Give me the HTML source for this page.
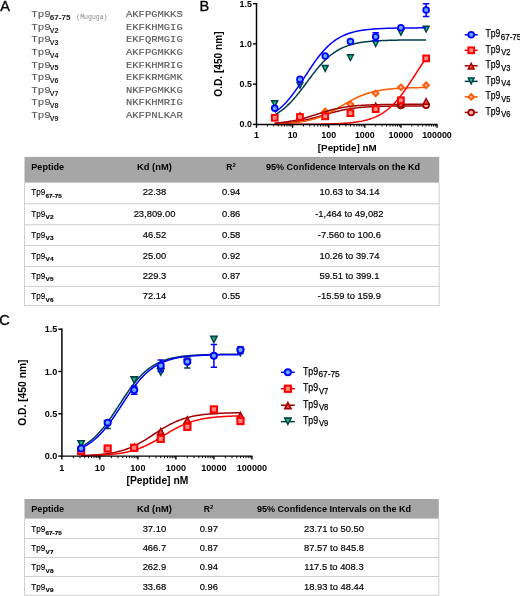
<!DOCTYPE html>
<html><head><meta charset="utf-8"><title>Figure</title>
<style>
html,body{margin:0;padding:0;background:#fff;}
body{width:520px;height:596px;overflow:hidden;font-family:"Liberation Sans",sans-serif;}
svg{display:block}
</style></head><body>
<div style="will-change:transform;width:520px;height:596px;overflow:hidden"><svg width="520" height="596" viewBox="0 0 520 596">
<defs><filter id="soft" x="0" y="0" width="520" height="596" filterUnits="userSpaceOnUse"><feGaussianBlur stdDeviation="0.32"/></filter></defs>
<g filter="url(#soft)">
<text x="0.20" y="10.80" font-family="Liberation Sans" font-size="14.5" font-weight="normal" text-anchor="start" fill="#000" stroke="#000" stroke-width="0.35">A</text>
<text x="199.60" y="10.60" font-family="Liberation Sans" font-size="14.5" font-weight="normal" text-anchor="start" fill="#000" stroke="#000" stroke-width="0.35">B</text>
<text x="-0.80" y="324.80" font-family="Liberation Sans" font-size="14.5" font-weight="normal" text-anchor="start" fill="#000" stroke="#000" stroke-width="0.35">C</text>
<text x="31.20" y="17.25" font-family="Liberation Mono" font-size="9.6" font-weight="normal" text-anchor="start" fill="#585858" textLength="19.60" lengthAdjust="spacingAndGlyphs" stroke="#585858" stroke-width="0.14">Tp9</text>
<text x="49.80" y="19.95" font-family="Liberation Sans" font-size="6.6" font-weight="bold" text-anchor="start" fill="#222" textLength="20.80" lengthAdjust="spacingAndGlyphs" >67-75</text>
<text x="76.30" y="18.75" font-family="Liberation Mono" font-size="6.5" font-weight="normal" text-anchor="start" fill="#888" textLength="31.20" lengthAdjust="spacingAndGlyphs" >(Muguga)</text>
<text x="126.00" y="17.25" font-family="Liberation Mono" font-size="9.6" font-weight="normal" text-anchor="start" fill="#585858" textLength="56.70" lengthAdjust="spacingAndGlyphs" stroke="#585858" stroke-width="0.14">AKFPGMKKS</text>
<text x="31.20" y="29.85" font-family="Liberation Mono" font-size="9.6" font-weight="normal" text-anchor="start" fill="#585858" textLength="19.60" lengthAdjust="spacingAndGlyphs" stroke="#585858" stroke-width="0.14">Tp9</text>
<text x="49.80" y="32.55" font-family="Liberation Sans" font-size="6.6" font-weight="bold" text-anchor="start" fill="#222" textLength="8.70" lengthAdjust="spacingAndGlyphs" >V2</text>
<text x="126.00" y="29.85" font-family="Liberation Mono" font-size="9.6" font-weight="normal" text-anchor="start" fill="#585858" textLength="56.70" lengthAdjust="spacingAndGlyphs" stroke="#585858" stroke-width="0.14">EKFKHMGIG</text>
<text x="31.20" y="42.45" font-family="Liberation Mono" font-size="9.6" font-weight="normal" text-anchor="start" fill="#585858" textLength="19.60" lengthAdjust="spacingAndGlyphs" stroke="#585858" stroke-width="0.14">Tp9</text>
<text x="49.80" y="45.15" font-family="Liberation Sans" font-size="6.6" font-weight="bold" text-anchor="start" fill="#222" textLength="8.70" lengthAdjust="spacingAndGlyphs" >V3</text>
<text x="126.00" y="42.45" font-family="Liberation Mono" font-size="9.6" font-weight="normal" text-anchor="start" fill="#585858" textLength="56.70" lengthAdjust="spacingAndGlyphs" stroke="#585858" stroke-width="0.14">EKFQRMGIG</text>
<text x="31.20" y="55.05" font-family="Liberation Mono" font-size="9.6" font-weight="normal" text-anchor="start" fill="#585858" textLength="19.60" lengthAdjust="spacingAndGlyphs" stroke="#585858" stroke-width="0.14">Tp9</text>
<text x="49.80" y="57.75" font-family="Liberation Sans" font-size="6.6" font-weight="bold" text-anchor="start" fill="#222" textLength="8.70" lengthAdjust="spacingAndGlyphs" >V4</text>
<text x="126.00" y="55.05" font-family="Liberation Mono" font-size="9.6" font-weight="normal" text-anchor="start" fill="#585858" textLength="56.70" lengthAdjust="spacingAndGlyphs" stroke="#585858" stroke-width="0.14">AKFPGMKKG</text>
<text x="31.20" y="67.65" font-family="Liberation Mono" font-size="9.6" font-weight="normal" text-anchor="start" fill="#585858" textLength="19.60" lengthAdjust="spacingAndGlyphs" stroke="#585858" stroke-width="0.14">Tp9</text>
<text x="49.80" y="70.35" font-family="Liberation Sans" font-size="6.6" font-weight="bold" text-anchor="start" fill="#222" textLength="8.70" lengthAdjust="spacingAndGlyphs" >V5</text>
<text x="126.00" y="67.65" font-family="Liberation Mono" font-size="9.6" font-weight="normal" text-anchor="start" fill="#585858" textLength="56.70" lengthAdjust="spacingAndGlyphs" stroke="#585858" stroke-width="0.14">EKFKHMRIG</text>
<text x="31.20" y="80.25" font-family="Liberation Mono" font-size="9.6" font-weight="normal" text-anchor="start" fill="#585858" textLength="19.60" lengthAdjust="spacingAndGlyphs" stroke="#585858" stroke-width="0.14">Tp9</text>
<text x="49.80" y="82.95" font-family="Liberation Sans" font-size="6.6" font-weight="bold" text-anchor="start" fill="#222" textLength="8.70" lengthAdjust="spacingAndGlyphs" >V6</text>
<text x="126.00" y="80.25" font-family="Liberation Mono" font-size="9.6" font-weight="normal" text-anchor="start" fill="#585858" textLength="56.70" lengthAdjust="spacingAndGlyphs" stroke="#585858" stroke-width="0.14">EKFKRMGMK</text>
<text x="31.20" y="92.85" font-family="Liberation Mono" font-size="9.6" font-weight="normal" text-anchor="start" fill="#585858" textLength="19.60" lengthAdjust="spacingAndGlyphs" stroke="#585858" stroke-width="0.14">Tp9</text>
<text x="49.80" y="95.55" font-family="Liberation Sans" font-size="6.6" font-weight="bold" text-anchor="start" fill="#222" textLength="8.70" lengthAdjust="spacingAndGlyphs" >V7</text>
<text x="126.00" y="92.85" font-family="Liberation Mono" font-size="9.6" font-weight="normal" text-anchor="start" fill="#585858" textLength="56.70" lengthAdjust="spacingAndGlyphs" stroke="#585858" stroke-width="0.14">NKFPGMKKG</text>
<text x="31.20" y="105.45" font-family="Liberation Mono" font-size="9.6" font-weight="normal" text-anchor="start" fill="#585858" textLength="19.60" lengthAdjust="spacingAndGlyphs" stroke="#585858" stroke-width="0.14">Tp9</text>
<text x="49.80" y="108.15" font-family="Liberation Sans" font-size="6.6" font-weight="bold" text-anchor="start" fill="#222" textLength="8.70" lengthAdjust="spacingAndGlyphs" >V8</text>
<text x="126.00" y="105.45" font-family="Liberation Mono" font-size="9.6" font-weight="normal" text-anchor="start" fill="#585858" textLength="56.70" lengthAdjust="spacingAndGlyphs" stroke="#585858" stroke-width="0.14">NKFKHMRIG</text>
<text x="31.20" y="118.05" font-family="Liberation Mono" font-size="9.6" font-weight="normal" text-anchor="start" fill="#585858" textLength="19.60" lengthAdjust="spacingAndGlyphs" stroke="#585858" stroke-width="0.14">Tp9</text>
<text x="49.80" y="120.75" font-family="Liberation Sans" font-size="6.6" font-weight="bold" text-anchor="start" fill="#222" textLength="8.70" lengthAdjust="spacingAndGlyphs" >V9</text>
<text x="126.00" y="118.05" font-family="Liberation Mono" font-size="9.6" font-weight="normal" text-anchor="start" fill="#585858" textLength="56.70" lengthAdjust="spacingAndGlyphs" stroke="#585858" stroke-width="0.14">AKFPNLKAR</text>
<polyline points="274.74,123.61 276.00,123.55 277.26,123.48 278.52,123.41 279.78,123.33 281.04,123.25 282.31,123.16 283.57,123.06 284.83,122.96 286.09,122.85 287.35,122.73 288.61,122.60 289.88,122.47 291.14,122.32 292.40,122.17 293.66,122.01 294.92,121.84 296.18,121.65 297.45,121.46 298.71,121.25 299.97,121.04 301.23,120.81 302.49,120.57 303.75,120.32 305.02,120.06 306.28,119.79 307.54,119.50 308.80,119.21 310.06,118.90 311.32,118.59 312.59,118.26 313.85,117.93 315.11,117.58 316.37,117.23 317.63,116.88 318.89,116.52 320.15,116.15 321.42,115.78 322.68,115.41 323.94,115.04 325.20,114.66 326.46,114.29 327.72,113.93 328.99,113.56 330.25,113.20 331.51,112.85 332.77,112.50 334.03,112.17 335.29,111.84 336.56,111.52 337.82,111.21 339.08,110.91 340.34,110.62 341.60,110.34 342.86,110.07 344.13,109.82 345.39,109.57 346.65,109.34 347.91,109.12 349.17,108.91 350.43,108.71 351.70,108.53 352.96,108.35 354.22,108.18 355.48,108.03 356.74,107.88 358.00,107.74 359.27,107.61 360.53,107.49 361.79,107.37 363.05,107.27 364.31,107.17 365.57,107.07 366.84,106.99 368.10,106.91 369.36,106.83 370.62,106.76 371.88,106.70 373.14,106.64 374.41,106.58 375.67,106.53 376.93,106.48 378.19,106.44 379.45,106.40 380.71,106.36 381.98,106.32 383.24,106.29 384.50,106.26 385.76,106.23 387.02,106.20 388.28,106.18 389.55,106.16 390.81,106.14 392.07,106.12 393.33,106.10 394.59,106.08 395.85,106.07 397.12,106.05 398.38,106.04 399.64,106.03 400.90,106.02 402.16,106.01 403.42,106.00 404.68,105.99 405.95,105.98 407.21,105.97 408.47,105.97 409.73,105.96 410.99,105.95 412.25,105.95 413.52,105.94 414.78,105.94 416.04,105.94 417.30,105.93 418.56,105.93 419.82,105.92 421.09,105.92 422.35,105.92 423.61,105.92 424.87,105.91 426.13,105.91" fill="none" stroke="#a00000" stroke-width="1.5" stroke-linejoin="round"/>
<circle cx="400.90" cy="105.48" r="3.75" fill="#a00000"/><circle cx="400.90" cy="105.48" r="2.00" fill="#ffb0b0"/>
<circle cx="426.13" cy="105.20" r="3.75" fill="#a00000"/><circle cx="426.13" cy="105.20" r="2.00" fill="#ffb0b0"/>
<polyline points="274.74,123.89 276.00,123.85 277.26,123.80 278.52,123.75 279.78,123.70 281.04,123.64 282.31,123.58 283.57,123.51 284.83,123.44 286.09,123.36 287.35,123.28 288.61,123.19 289.88,123.09 291.14,122.99 292.40,122.87 293.66,122.75 294.92,122.62 296.18,122.48 297.45,122.32 298.71,122.16 299.97,121.98 301.23,121.80 302.49,121.59 303.75,121.38 305.02,121.15 306.28,120.90 307.54,120.64 308.80,120.36 310.06,120.06 311.32,119.74 312.59,119.40 313.85,119.04 315.11,118.66 316.37,118.26 317.63,117.84 318.89,117.39 320.15,116.93 321.42,116.43 322.68,115.92 323.94,115.38 325.20,114.82 326.46,114.24 327.72,113.64 328.99,113.01 330.25,112.37 331.51,111.70 332.77,111.02 334.03,110.33 335.29,109.62 336.56,108.90 337.82,108.17 339.08,107.43 340.34,106.69 341.60,105.95 342.86,105.20 344.13,104.46 345.39,103.72 346.65,102.99 347.91,102.27 349.17,101.56 350.43,100.86 351.70,100.18 352.96,99.51 354.22,98.87 355.48,98.24 356.74,97.63 358.00,97.05 359.27,96.48 360.53,95.94 361.79,95.42 363.05,94.93 364.31,94.45 365.57,94.00 366.84,93.58 368.10,93.17 369.36,92.79 370.62,92.43 371.88,92.09 373.14,91.76 374.41,91.46 375.67,91.18 376.93,90.91 378.19,90.66 379.45,90.43 380.71,90.21 381.98,90.01 383.24,89.82 384.50,89.64 385.76,89.47 387.02,89.32 388.28,89.18 389.55,89.04 390.81,88.92 392.07,88.80 393.33,88.70 394.59,88.60 395.85,88.51 397.12,88.42 398.38,88.34 399.64,88.27 400.90,88.20 402.16,88.14 403.42,88.08 404.68,88.03 405.95,87.98 407.21,87.93 408.47,87.89 409.73,87.85 410.99,87.81 412.25,87.78 413.52,87.75 414.78,87.72 416.04,87.69 417.30,87.67 418.56,87.64 419.82,87.62 421.09,87.60 422.35,87.58 423.61,87.57 424.87,87.55 426.13,87.54" fill="none" stroke="#ff5a00" stroke-width="1.5" stroke-linejoin="round"/>
<path d="M325.20 107.32L329.40 111.52L325.20 115.72L321.00 111.52Z" fill="#ff5a00"/><path d="M325.20 109.92L326.80 111.52L325.20 113.12L323.60 111.52Z" fill="#ffb0b8"/>
<path d="M350.43 100.08L354.63 104.28L350.43 108.48L346.23 104.28Z" fill="#ff5a00"/><path d="M350.43 102.68L352.03 104.28L350.43 105.88L348.83 104.28Z" fill="#ffb0b8"/>
<path d="M375.67 89.21L379.87 93.41L375.67 97.61L371.47 93.41Z" fill="#ff5a00"/><path d="M375.67 91.81L377.27 93.41L375.67 95.01L374.07 93.41Z" fill="#ffb0b8"/>
<path d="M400.90 83.17L405.10 87.37L400.90 91.57L396.70 87.37Z" fill="#ff5a00"/><path d="M400.90 85.77L402.50 87.37L400.90 88.97L399.30 87.37Z" fill="#ffb0b8"/>
<path d="M426.13 81.00L430.33 85.20L426.13 89.40L421.93 85.20Z" fill="#ff5a00"/><path d="M426.13 83.60L427.73 85.20L426.13 86.80L424.53 85.20Z" fill="#ffb0b8"/>
<polyline points="274.74,114.81 276.00,114.10 277.26,113.35 278.52,112.56 279.78,111.71 281.04,110.82 282.31,109.88 283.57,108.88 284.83,107.84 286.09,106.74 287.35,105.59 288.61,104.39 289.88,103.13 291.14,101.83 292.40,100.47 293.66,99.07 294.92,97.62 296.18,96.12 297.45,94.59 298.71,93.02 299.97,91.41 301.23,89.78 302.49,88.13 303.75,86.45 305.02,84.76 306.28,83.07 307.54,81.37 308.80,79.67 310.06,77.98 311.32,76.30 312.59,74.64 313.85,73.01 315.11,71.40 316.37,69.83 317.63,68.29 318.89,66.79 320.15,65.34 321.42,63.93 322.68,62.57 323.94,61.26 325.20,60.00 326.46,58.79 327.72,57.64 328.99,56.53 330.25,55.48 331.51,54.49 332.77,53.54 334.03,52.64 335.29,51.79 336.56,50.99 337.82,50.24 339.08,49.53 340.34,48.86 341.60,48.24 342.86,47.65 344.13,47.10 345.39,46.59 346.65,46.10 347.91,45.66 349.17,45.24 350.43,44.85 351.70,44.48 352.96,44.15 354.22,43.83 355.48,43.54 356.74,43.27 358.00,43.01 359.27,42.78 360.53,42.56 361.79,42.36 363.05,42.17 364.31,42.00 365.57,41.84 366.84,41.69 368.10,41.55 369.36,41.43 370.62,41.31 371.88,41.20 373.14,41.10 374.41,41.00 375.67,40.92 376.93,40.84 378.19,40.77 379.45,40.70 380.71,40.63 381.98,40.58 383.24,40.52 384.50,40.47 385.76,40.43 387.02,40.38 388.28,40.34 389.55,40.31 390.81,40.28 392.07,40.24 393.33,40.22 394.59,40.19 395.85,40.17 397.12,40.14 398.38,40.12 399.64,40.10 400.90,40.09 402.16,40.07 403.42,40.05 404.68,40.04 405.95,40.03 407.21,40.02 408.47,40.01 409.73,40.00 410.99,39.99 412.25,39.98 413.52,39.97 414.78,39.96 416.04,39.96 417.30,39.95 418.56,39.94 419.82,39.94 421.09,39.93 422.35,39.93 423.61,39.92 424.87,39.92 426.13,39.92" fill="none" stroke="#003d4d" stroke-width="1.5" stroke-linejoin="round"/>
<path d="M274.74 101.70V106.53M271.54 101.70h6.4M271.54 106.53h6.4" stroke="#003d4d" stroke-width="1.5" fill="none"/>
<path d="M274.74 108.21L278.84 100.11H270.64Z" fill="#003d4d"/><path d="M274.74 105.11L276.44 101.61H273.04Z" fill="#10d070"/>
<path d="M299.97 89.86L304.07 81.76H295.87Z" fill="#003d4d"/><path d="M299.97 86.76L301.67 83.26H298.27Z" fill="#10d070"/>
<path d="M325.20 72.96L329.30 64.86H321.10Z" fill="#003d4d"/><path d="M325.20 69.86L326.90 66.36H323.50Z" fill="#10d070"/>
<path d="M350.43 62.09L354.53 53.99H346.33Z" fill="#003d4d"/><path d="M350.43 58.99L352.13 55.49H348.73Z" fill="#10d070"/>
<path d="M375.67 48.00L379.77 39.90H371.57Z" fill="#003d4d"/><path d="M375.67 44.90L377.37 41.40H373.97Z" fill="#10d070"/>
<path d="M400.90 36.73L405.00 28.63H396.80Z" fill="#003d4d"/><path d="M400.90 33.63L402.60 30.13H399.20Z" fill="#10d070"/>
<path d="M426.13 33.51L430.23 25.41H422.03Z" fill="#003d4d"/><path d="M426.13 30.41L427.83 26.91H424.43Z" fill="#10d070"/>
<polyline points="274.74,123.10 276.00,123.00 277.26,122.90 278.52,122.78 279.78,122.66 281.04,122.52 282.31,122.38 283.57,122.23 284.83,122.07 286.09,121.90 287.35,121.72 288.61,121.52 289.88,121.32 291.14,121.10 292.40,120.88 293.66,120.64 294.92,120.38 296.18,120.12 297.45,119.84 298.71,119.55 299.97,119.25 301.23,118.94 302.49,118.61 303.75,118.27 305.02,117.92 306.28,117.56 307.54,117.20 308.80,116.82 310.06,116.44 311.32,116.05 312.59,115.65 313.85,115.25 315.11,114.85 316.37,114.44 317.63,114.04 318.89,113.64 320.15,113.23 321.42,112.84 322.68,112.44 323.94,112.06 325.20,111.67 326.46,111.30 327.72,110.94 328.99,110.59 330.25,110.24 331.51,109.91 332.77,109.59 334.03,109.28 335.29,108.98 336.56,108.70 337.82,108.43 339.08,108.17 340.34,107.92 341.60,107.69 342.86,107.47 344.13,107.26 345.39,107.06 346.65,106.87 347.91,106.69 349.17,106.53 350.43,106.37 351.70,106.23 352.96,106.09 354.22,105.96 355.48,105.84 356.74,105.73 358.00,105.62 359.27,105.52 360.53,105.43 361.79,105.35 363.05,105.27 364.31,105.20 365.57,105.13 366.84,105.06 368.10,105.01 369.36,104.95 370.62,104.90 371.88,104.85 373.14,104.81 374.41,104.77 375.67,104.73 376.93,104.70 378.19,104.67 379.45,104.64 380.71,104.61 381.98,104.58 383.24,104.56 384.50,104.54 385.76,104.52 387.02,104.50 388.28,104.48 389.55,104.47 390.81,104.45 392.07,104.44 393.33,104.43 394.59,104.41 395.85,104.40 397.12,104.39 398.38,104.38 399.64,104.38 400.90,104.37 402.16,104.36 403.42,104.35 404.68,104.35 405.95,104.34 407.21,104.34 408.47,104.33 409.73,104.33 410.99,104.32 412.25,104.32 413.52,104.32 414.78,104.31 416.04,104.31 417.30,104.31 418.56,104.31 419.82,104.30 421.09,104.30 422.35,104.30 423.61,104.30 424.87,104.30 426.13,104.29" fill="none" stroke="#a00000" stroke-width="1.5" stroke-linejoin="round"/>
<path d="M299.97 111.28L304.07 119.38H295.87Z" fill="#a00000"/><path d="M299.97 114.38L301.67 117.88H298.27Z" fill="#ff4040"/>
<path d="M325.20 111.85L329.30 119.95H321.10Z" fill="#a00000"/><path d="M325.20 114.95L326.90 118.45H323.50Z" fill="#ff4040"/>
<path d="M350.43 108.63L354.53 116.73H346.33Z" fill="#a00000"/><path d="M350.43 111.73L352.13 115.23H348.73Z" fill="#ff4040"/>
<path d="M375.67 101.38L379.77 109.48H371.57Z" fill="#a00000"/><path d="M375.67 104.48L377.37 107.98H373.97Z" fill="#ff4040"/>
<path d="M400.90 99.37L405.00 107.47H396.80Z" fill="#a00000"/><path d="M400.90 102.47L402.60 105.97H399.20Z" fill="#ff4040"/>
<path d="M426.13 96.96L430.23 105.06H422.03Z" fill="#a00000"/><path d="M426.13 100.06L427.83 103.56H424.43Z" fill="#ff4040"/>
<polyline points="274.74,124.39 276.00,124.39 277.26,124.38 278.52,124.38 279.78,124.38 281.04,124.38 282.31,124.38 283.57,124.38 284.83,124.38 286.09,124.37 287.35,124.37 288.61,124.37 289.88,124.37 291.14,124.36 292.40,124.36 293.66,124.36 294.92,124.35 296.18,124.35 297.45,124.34 298.71,124.34 299.97,124.33 301.23,124.33 302.49,124.32 303.75,124.32 305.02,124.31 306.28,124.30 307.54,124.29 308.80,124.29 310.06,124.28 311.32,124.27 312.59,124.25 313.85,124.24 315.11,124.23 316.37,124.21 317.63,124.20 318.89,124.18 320.15,124.16 321.42,124.14 322.68,124.12 323.94,124.10 325.20,124.07 326.46,124.05 327.72,124.02 328.99,123.99 330.25,123.95 331.51,123.91 332.77,123.87 334.03,123.83 335.29,123.78 336.56,123.73 337.82,123.67 339.08,123.61 340.34,123.55 341.60,123.48 342.86,123.40 344.13,123.32 345.39,123.23 346.65,123.13 347.91,123.03 349.17,122.91 350.43,122.79 351.70,122.66 352.96,122.52 354.22,122.36 355.48,122.19 356.74,122.01 358.00,121.82 359.27,121.61 360.53,121.38 361.79,121.14 363.05,120.87 364.31,120.59 365.57,120.28 366.84,119.95 368.10,119.60 369.36,119.22 370.62,118.81 371.88,118.37 373.14,117.90 374.41,117.39 375.67,116.85 376.93,116.27 378.19,115.65 379.45,114.99 380.71,114.28 381.98,113.53 383.24,112.73 384.50,111.88 385.76,110.97 387.02,110.01 388.28,109.00 389.55,107.92 390.81,106.79 392.07,105.60 393.33,104.35 394.59,103.04 395.85,101.67 397.12,100.24 398.38,98.74 399.64,97.20 400.90,95.59 402.16,93.93 403.42,92.22 404.68,90.46 405.95,88.66 407.21,86.82 408.47,84.95 409.73,83.05 410.99,81.12 412.25,79.18 413.52,77.23 414.78,75.27 416.04,73.31 417.30,71.36 418.56,69.42 419.82,67.51 421.09,65.62 422.35,63.76 423.61,61.93 424.87,60.15 426.13,58.42" fill="none" stroke="#ff0000" stroke-width="1.5" stroke-linejoin="round"/>
<rect x="270.89" y="113.95" width="7.70" height="7.70" fill="#ff0000"/><rect x="272.84" y="115.90" width="3.80" height="3.80" fill="#ff8a8a"/>
<rect x="296.12" y="113.14" width="7.70" height="7.70" fill="#ff0000"/><rect x="298.07" y="115.09" width="3.80" height="3.80" fill="#ff8a8a"/>
<rect x="321.35" y="112.50" width="7.70" height="7.70" fill="#ff0000"/><rect x="323.30" y="114.45" width="3.80" height="3.80" fill="#ff8a8a"/>
<rect x="346.58" y="109.28" width="7.70" height="7.70" fill="#ff0000"/><rect x="348.53" y="111.23" width="3.80" height="3.80" fill="#ff8a8a"/>
<rect x="371.82" y="105.26" width="7.70" height="7.70" fill="#ff0000"/><rect x="373.77" y="107.20" width="3.80" height="3.80" fill="#ff8a8a"/>
<rect x="397.05" y="96.40" width="7.70" height="7.70" fill="#ff0000"/><rect x="399.00" y="98.35" width="3.80" height="3.80" fill="#ff8a8a"/>
<rect x="422.28" y="54.54" width="7.70" height="7.70" fill="#ff0000"/><rect x="424.23" y="56.49" width="3.80" height="3.80" fill="#ff8a8a"/>
<polyline points="274.74,112.32 276.00,111.44 277.26,110.51 278.52,109.52 279.78,108.48 281.04,107.38 282.31,106.23 283.57,105.01 284.83,103.73 286.09,102.39 287.35,101.00 288.61,99.54 289.88,98.03 291.14,96.46 292.40,94.83 293.66,93.15 294.92,91.43 296.18,89.66 297.45,87.85 298.71,86.01 299.97,84.13 301.23,82.23 302.49,80.31 303.75,78.37 305.02,76.43 306.28,74.49 307.54,72.55 308.80,70.62 310.06,68.72 311.32,66.83 312.59,64.97 313.85,63.15 315.11,61.37 316.37,59.63 317.63,57.93 318.89,56.29 320.15,54.70 321.42,53.17 322.68,51.69 323.94,50.27 325.20,48.92 326.46,47.62 327.72,46.38 328.99,45.20 330.25,44.08 331.51,43.02 332.77,42.02 334.03,41.07 335.29,40.18 336.56,39.33 337.82,38.54 339.08,37.80 340.34,37.10 341.60,36.44 342.86,35.83 344.13,35.26 345.39,34.72 346.65,34.22 347.91,33.76 349.17,33.32 350.43,32.92 351.70,32.54 352.96,32.19 354.22,31.87 355.48,31.56 356.74,31.28 358.00,31.02 359.27,30.78 360.53,30.56 361.79,30.35 363.05,30.16 364.31,29.98 365.57,29.81 366.84,29.66 368.10,29.52 369.36,29.39 370.62,29.27 371.88,29.16 373.14,29.05 374.41,28.96 375.67,28.87 376.93,28.79 378.19,28.71 379.45,28.64 380.71,28.58 381.98,28.52 383.24,28.46 384.50,28.41 385.76,28.36 387.02,28.32 388.28,28.28 389.55,28.24 390.81,28.21 392.07,28.18 393.33,28.15 394.59,28.12 395.85,28.10 397.12,28.07 398.38,28.05 399.64,28.03 400.90,28.02 402.16,28.00 403.42,27.98 404.68,27.97 405.95,27.96 407.21,27.94 408.47,27.93 409.73,27.92 410.99,27.91 412.25,27.90 413.52,27.90 414.78,27.89 416.04,27.88 417.30,27.88 418.56,27.87 419.82,27.86 421.09,27.86 422.35,27.86 423.61,27.85 424.87,27.85 426.13,27.84" fill="none" stroke="#0000ff" stroke-width="1.5" stroke-linejoin="round"/>
<path d="M375.67 32.63V40.68M372.47 32.63h6.4M372.47 40.68h6.4" stroke="#0000ff" stroke-width="1.5" fill="none"/>
<path d="M426.13 3.65V16.53M422.93 3.65h6.4M422.93 16.53h6.4" stroke="#0000ff" stroke-width="1.5" fill="none"/>
<circle cx="274.74" cy="108.30" r="3.75" fill="#0000ff"/><circle cx="274.74" cy="108.30" r="2.00" fill="#66aaff"/>
<circle cx="299.97" cy="79.32" r="3.75" fill="#0000ff"/><circle cx="299.97" cy="79.32" r="2.00" fill="#66aaff"/>
<circle cx="325.20" cy="55.98" r="3.75" fill="#0000ff"/><circle cx="325.20" cy="55.98" r="2.00" fill="#66aaff"/>
<circle cx="350.43" cy="41.48" r="3.75" fill="#0000ff"/><circle cx="350.43" cy="41.48" r="2.00" fill="#66aaff"/>
<circle cx="375.67" cy="36.66" r="3.75" fill="#0000ff"/><circle cx="375.67" cy="36.66" r="2.00" fill="#66aaff"/>
<circle cx="400.90" cy="27.80" r="3.75" fill="#0000ff"/><circle cx="400.90" cy="27.80" r="2.00" fill="#66aaff"/>
<circle cx="426.13" cy="10.09" r="3.75" fill="#0000ff"/><circle cx="426.13" cy="10.09" r="2.00" fill="#66aaff"/>
<path d="M256.50 3.05V124.40H437.60" stroke="#000" stroke-width="1.45" fill="none"/>
<path d="M252.90 124.40H256.50" stroke="#000" stroke-width="1.4"/>
<text x="251.90" y="127.45" font-family="Liberation Sans" font-size="9.523000000000001" font-weight="bold" text-anchor="end" fill="#000" textLength="12.37" lengthAdjust="spacingAndGlyphs" >0.0</text>
<path d="M252.90 84.15H256.50" stroke="#000" stroke-width="1.4"/>
<text x="251.90" y="87.20" font-family="Liberation Sans" font-size="9.523000000000001" font-weight="bold" text-anchor="end" fill="#000" textLength="12.37" lengthAdjust="spacingAndGlyphs" >0.5</text>
<path d="M252.90 43.90H256.50" stroke="#000" stroke-width="1.4"/>
<text x="251.90" y="46.95" font-family="Liberation Sans" font-size="9.523000000000001" font-weight="bold" text-anchor="end" fill="#000" textLength="12.37" lengthAdjust="spacingAndGlyphs" >1.0</text>
<path d="M252.90 3.65H256.50" stroke="#000" stroke-width="1.4"/>
<text x="251.90" y="6.70" font-family="Liberation Sans" font-size="9.523000000000001" font-weight="bold" text-anchor="end" fill="#000" textLength="12.37" lengthAdjust="spacingAndGlyphs" >1.5</text>
<path d="M256.50 124.40v3.4" stroke="#000" stroke-width="1.4"/>
<text x="256.50" y="138.00" font-family="Liberation Sans" font-size="9.523000000000001" font-weight="bold" text-anchor="middle" fill="#000" textLength="4.95" lengthAdjust="spacingAndGlyphs" >1</text>
<path d="M267.37 124.40v2.1" stroke="#000" stroke-width="1"/>
<path d="M273.72 124.40v2.1" stroke="#000" stroke-width="1"/>
<path d="M278.23 124.40v2.1" stroke="#000" stroke-width="1"/>
<path d="M281.73 124.40v2.1" stroke="#000" stroke-width="1"/>
<path d="M284.59 124.40v2.1" stroke="#000" stroke-width="1"/>
<path d="M287.01 124.40v2.1" stroke="#000" stroke-width="1"/>
<path d="M289.10 124.40v2.1" stroke="#000" stroke-width="1"/>
<path d="M290.95 124.40v2.1" stroke="#000" stroke-width="1"/>
<path d="M292.60 124.40v3.4" stroke="#000" stroke-width="1.4"/>
<text x="292.60" y="138.00" font-family="Liberation Sans" font-size="9.523000000000001" font-weight="bold" text-anchor="middle" fill="#000" textLength="9.90" lengthAdjust="spacingAndGlyphs" >10</text>
<path d="M303.47 124.40v2.1" stroke="#000" stroke-width="1"/>
<path d="M309.82 124.40v2.1" stroke="#000" stroke-width="1"/>
<path d="M314.33 124.40v2.1" stroke="#000" stroke-width="1"/>
<path d="M317.83 124.40v2.1" stroke="#000" stroke-width="1"/>
<path d="M320.69 124.40v2.1" stroke="#000" stroke-width="1"/>
<path d="M323.11 124.40v2.1" stroke="#000" stroke-width="1"/>
<path d="M325.20 124.40v2.1" stroke="#000" stroke-width="1"/>
<path d="M327.05 124.40v2.1" stroke="#000" stroke-width="1"/>
<path d="M328.70 124.40v3.4" stroke="#000" stroke-width="1.4"/>
<text x="328.70" y="138.00" font-family="Liberation Sans" font-size="9.523000000000001" font-weight="bold" text-anchor="middle" fill="#000" textLength="14.85" lengthAdjust="spacingAndGlyphs" >100</text>
<path d="M339.57 124.40v2.1" stroke="#000" stroke-width="1"/>
<path d="M345.92 124.40v2.1" stroke="#000" stroke-width="1"/>
<path d="M350.43 124.40v2.1" stroke="#000" stroke-width="1"/>
<path d="M353.93 124.40v2.1" stroke="#000" stroke-width="1"/>
<path d="M356.79 124.40v2.1" stroke="#000" stroke-width="1"/>
<path d="M359.21 124.40v2.1" stroke="#000" stroke-width="1"/>
<path d="M361.30 124.40v2.1" stroke="#000" stroke-width="1"/>
<path d="M363.15 124.40v2.1" stroke="#000" stroke-width="1"/>
<path d="M364.80 124.40v3.4" stroke="#000" stroke-width="1.4"/>
<text x="364.80" y="138.00" font-family="Liberation Sans" font-size="9.523000000000001" font-weight="bold" text-anchor="middle" fill="#000" textLength="19.79" lengthAdjust="spacingAndGlyphs" >1000</text>
<path d="M375.67 124.40v2.1" stroke="#000" stroke-width="1"/>
<path d="M382.02 124.40v2.1" stroke="#000" stroke-width="1"/>
<path d="M386.53 124.40v2.1" stroke="#000" stroke-width="1"/>
<path d="M390.03 124.40v2.1" stroke="#000" stroke-width="1"/>
<path d="M392.89 124.40v2.1" stroke="#000" stroke-width="1"/>
<path d="M395.31 124.40v2.1" stroke="#000" stroke-width="1"/>
<path d="M397.40 124.40v2.1" stroke="#000" stroke-width="1"/>
<path d="M399.25 124.40v2.1" stroke="#000" stroke-width="1"/>
<path d="M400.90 124.40v3.4" stroke="#000" stroke-width="1.4"/>
<text x="400.90" y="138.00" font-family="Liberation Sans" font-size="9.523000000000001" font-weight="bold" text-anchor="middle" fill="#000" textLength="24.74" lengthAdjust="spacingAndGlyphs" >10000</text>
<path d="M411.77 124.40v2.1" stroke="#000" stroke-width="1"/>
<path d="M418.12 124.40v2.1" stroke="#000" stroke-width="1"/>
<path d="M422.63 124.40v2.1" stroke="#000" stroke-width="1"/>
<path d="M426.13 124.40v2.1" stroke="#000" stroke-width="1"/>
<path d="M428.99 124.40v2.1" stroke="#000" stroke-width="1"/>
<path d="M431.41 124.40v2.1" stroke="#000" stroke-width="1"/>
<path d="M433.50 124.40v2.1" stroke="#000" stroke-width="1"/>
<path d="M435.35 124.40v2.1" stroke="#000" stroke-width="1"/>
<path d="M437.00 124.40v3.4" stroke="#000" stroke-width="1.4"/>
<text x="437.00" y="138.00" font-family="Liberation Sans" font-size="9.523000000000001" font-weight="bold" text-anchor="middle" fill="#000" textLength="29.69" lengthAdjust="spacingAndGlyphs" >100000</text>
<text x="347.25" y="150.70" font-family="Liberation Sans" font-size="9.8" font-weight="bold" text-anchor="middle" fill="#000" >[Peptide] nM</text>
<text transform="translate(221.90,64.03) rotate(-90)" font-family="Liberation Sans" font-size="10.14" font-weight="bold" text-anchor="middle">O.D. [450 nm]</text>
<polyline points="81.10,446.83 82.42,446.13 83.75,445.38 85.08,444.59 86.41,443.74 87.74,442.84 89.06,441.88 90.39,440.87 91.72,439.80 93.05,438.66 94.38,437.47 95.70,436.21 97.03,434.89 98.36,433.51 99.69,432.06 101.02,430.55 102.34,428.98 103.67,427.35 105.00,425.66 106.33,423.92 107.66,422.12 108.98,420.27 110.31,418.38 111.64,416.45 112.97,414.48 114.30,412.49 115.62,410.47 116.95,408.43 118.28,406.39 119.61,404.34 120.94,402.29 122.27,400.25 123.59,398.23 124.92,396.22 126.25,394.25 127.58,392.31 128.91,390.41 130.23,388.55 131.56,386.74 132.89,384.99 134.22,383.28 135.55,381.64 136.87,380.05 138.20,378.53 139.53,377.07 140.86,375.67 142.19,374.34 143.51,373.07 144.84,371.86 146.17,370.71 147.50,369.63 148.83,368.60 150.15,367.63 151.48,366.72 152.81,365.86 154.14,365.05 155.47,364.29 156.79,363.58 158.12,362.91 159.45,362.29 160.78,361.71 162.11,361.16 163.43,360.66 164.76,360.18 166.09,359.74 167.42,359.33 168.75,358.95 170.07,358.60 171.40,358.27 172.73,357.96 174.06,357.68 175.39,357.41 176.71,357.17 178.04,356.94 179.37,356.73 180.70,356.54 182.03,356.36 183.36,356.19 184.68,356.04 186.01,355.89 187.34,355.76 188.67,355.64 190.00,355.53 191.32,355.42 192.65,355.33 193.98,355.24 195.31,355.15 196.64,355.08 197.96,355.01 199.29,354.94 200.62,354.88 201.95,354.83 203.28,354.77 204.60,354.73 205.93,354.68 207.26,354.64 208.59,354.61 209.92,354.57 211.24,354.54 212.57,354.51 213.90,354.48 215.23,354.46 216.56,354.43 217.88,354.41 219.21,354.39 220.54,354.37 221.87,354.36 223.20,354.34 224.52,354.33 225.85,354.31 227.18,354.30 228.51,354.29 229.84,354.28 231.16,354.27 232.49,354.26 233.82,354.25 235.15,354.25 236.48,354.24 237.80,354.23 239.13,354.23 240.46,354.22" fill="none" stroke="#003d4d" stroke-width="1.5" stroke-linejoin="round"/>
<path d="M107.66 420.99V428.61M104.46 420.99h6.4M104.46 428.61h6.4" stroke="#003d4d" stroke-width="1.5" fill="none"/>
<path d="M187.34 357.96V368.12M184.14 357.96h6.4M184.14 368.12h6.4" stroke="#003d4d" stroke-width="1.5" fill="none"/>
<path d="M81.10 448.64L85.48 439.98H76.71Z" fill="#003d4d"/><path d="M81.10 445.33L82.91 441.58H79.28Z" fill="#10d070"/>
<path d="M107.66 429.19L112.04 420.52H103.27Z" fill="#003d4d"/><path d="M107.66 425.87L109.48 422.12H105.84Z" fill="#10d070"/>
<path d="M134.22 384.77L138.60 376.10H129.83Z" fill="#003d4d"/><path d="M134.22 381.45L136.04 377.71H132.40Z" fill="#10d070"/>
<path d="M160.78 376.73L165.17 368.07H156.39Z" fill="#003d4d"/><path d="M160.78 373.42L162.60 369.67H158.96Z" fill="#10d070"/>
<path d="M187.34 367.43L191.73 358.76H182.95Z" fill="#003d4d"/><path d="M187.34 364.11L189.16 360.37H185.52Z" fill="#10d070"/>
<path d="M213.90 344.25L218.29 335.58H209.51Z" fill="#003d4d"/><path d="M213.90 340.93L215.72 337.18H212.08Z" fill="#10d070"/>
<path d="M240.46 357.28L244.85 348.61H236.07Z" fill="#003d4d"/><path d="M240.46 353.96L242.28 350.21H238.64Z" fill="#10d070"/>
<polyline points="81.10,455.58 82.42,455.53 83.75,455.49 85.08,455.44 86.41,455.38 87.74,455.32 89.06,455.26 90.39,455.19 91.72,455.11 93.05,455.03 94.38,454.95 95.70,454.85 97.03,454.75 98.36,454.64 99.69,454.52 101.02,454.40 102.34,454.26 103.67,454.11 105.00,453.95 106.33,453.78 107.66,453.60 108.98,453.40 110.31,453.19 111.64,452.97 112.97,452.72 114.30,452.47 115.62,452.19 116.95,451.89 118.28,451.58 119.61,451.24 120.94,450.88 122.27,450.50 123.59,450.10 124.92,449.67 126.25,449.21 127.58,448.73 128.91,448.23 130.23,447.69 131.56,447.14 132.89,446.55 134.22,445.94 135.55,445.29 136.87,444.63 138.20,443.93 139.53,443.22 140.86,442.47 142.19,441.71 143.51,440.92 144.84,440.12 146.17,439.30 147.50,438.46 148.83,437.61 150.15,436.75 151.48,435.88 152.81,435.00 154.14,434.13 155.47,433.25 156.79,432.38 158.12,431.51 159.45,430.66 160.78,429.81 162.11,428.98 163.43,428.16 164.76,427.37 166.09,426.59 167.42,425.83 168.75,425.10 170.07,424.39 171.40,423.71 172.73,423.06 174.06,422.43 175.39,421.83 176.71,421.25 178.04,420.70 179.37,420.18 180.70,419.69 182.03,419.22 183.36,418.78 184.68,418.36 186.01,417.96 187.34,417.59 188.67,417.24 190.00,416.92 191.32,416.61 192.65,416.32 193.98,416.05 195.31,415.80 196.64,415.56 197.96,415.35 199.29,415.14 200.62,414.95 201.95,414.77 203.28,414.61 204.60,414.45 205.93,414.31 207.26,414.18 208.59,414.06 209.92,413.94 211.24,413.84 212.57,413.74 213.90,413.65 215.23,413.56 216.56,413.48 217.88,413.41 219.21,413.35 220.54,413.28 221.87,413.23 223.20,413.17 224.52,413.12 225.85,413.08 227.18,413.04 228.51,413.00 229.84,412.96 231.16,412.93 232.49,412.90 233.82,412.87 235.15,412.84 236.48,412.82 237.80,412.80 239.13,412.78 240.46,412.76" fill="none" stroke="#a00000" stroke-width="1.5" stroke-linejoin="round"/>
<path d="M134.22 442.41L138.60 451.07H129.83Z" fill="#a00000"/><path d="M134.22 445.72L136.04 449.47H132.40Z" fill="#ff4040"/>
<path d="M160.78 426.67L165.17 435.34H156.39Z" fill="#a00000"/><path d="M160.78 429.99L162.60 433.73H158.96Z" fill="#ff4040"/>
<path d="M187.34 415.34L191.73 424.00H182.95Z" fill="#a00000"/><path d="M187.34 418.65L189.16 422.40H185.52Z" fill="#ff4040"/>
<path d="M213.90 405.61L218.29 414.27H209.51Z" fill="#a00000"/><path d="M213.90 408.92L215.72 412.67H212.08Z" fill="#ff4040"/>
<path d="M240.46 410.68L244.85 419.35H236.07Z" fill="#a00000"/><path d="M240.46 414.00L242.28 417.74H238.64Z" fill="#ff4040"/>
<polyline points="81.10,455.82 82.42,455.80 83.75,455.78 85.08,455.75 86.41,455.72 87.74,455.69 89.06,455.65 90.39,455.62 91.72,455.58 93.05,455.53 94.38,455.49 95.70,455.44 97.03,455.38 98.36,455.32 99.69,455.26 101.02,455.19 102.34,455.12 103.67,455.04 105.00,454.95 106.33,454.85 107.66,454.75 108.98,454.65 110.31,454.53 111.64,454.40 112.97,454.27 114.30,454.12 115.62,453.96 116.95,453.79 118.28,453.61 119.61,453.42 120.94,453.21 122.27,452.98 123.59,452.75 124.92,452.49 126.25,452.22 127.58,451.92 128.91,451.61 130.23,451.28 131.56,450.93 132.89,450.55 134.22,450.16 135.55,449.74 136.87,449.29 138.20,448.83 139.53,448.33 140.86,447.81 142.19,447.27 143.51,446.70 144.84,446.11 146.17,445.49 147.50,444.85 148.83,444.18 150.15,443.49 151.48,442.78 152.81,442.05 154.14,441.30 155.47,440.54 156.79,439.76 158.12,438.97 159.45,438.17 160.78,437.36 162.11,436.54 163.43,435.73 164.76,434.91 166.09,434.10 167.42,433.29 168.75,432.49 170.07,431.70 171.40,430.92 172.73,430.16 174.06,429.42 175.39,428.69 176.71,427.98 178.04,427.30 179.37,426.64 180.70,426.00 182.03,425.38 183.36,424.79 184.68,424.23 186.01,423.69 187.34,423.18 188.67,422.69 190.00,422.22 191.32,421.78 192.65,421.37 193.98,420.97 195.31,420.60 196.64,420.25 197.96,419.93 199.29,419.62 200.62,419.33 201.95,419.06 203.28,418.81 204.60,418.57 205.93,418.35 207.26,418.14 208.59,417.95 209.92,417.77 211.24,417.60 212.57,417.45 213.90,417.30 215.23,417.17 216.56,417.04 217.88,416.93 219.21,416.82 220.54,416.72 221.87,416.63 223.20,416.54 224.52,416.46 225.85,416.39 227.18,416.32 228.51,416.26 229.84,416.20 231.16,416.15 232.49,416.10 233.82,416.05 235.15,416.01 236.48,415.97 237.80,415.93 239.13,415.90 240.46,415.87" fill="none" stroke="#ff0000" stroke-width="1.5" stroke-linejoin="round"/>
<rect x="76.98" y="446.90" width="8.24" height="8.24" fill="#ff0000"/><rect x="79.06" y="448.99" width="4.07" height="4.07" fill="#ff8a8a"/>
<rect x="103.54" y="444.37" width="8.24" height="8.24" fill="#ff0000"/><rect x="105.62" y="446.45" width="4.07" height="4.07" fill="#ff8a8a"/>
<rect x="130.10" y="443.69" width="8.24" height="8.24" fill="#ff0000"/><rect x="132.18" y="445.78" width="4.07" height="4.07" fill="#ff8a8a"/>
<rect x="156.66" y="434.72" width="8.24" height="8.24" fill="#ff0000"/><rect x="158.75" y="436.81" width="4.07" height="4.07" fill="#ff8a8a"/>
<rect x="183.22" y="422.71" width="8.24" height="8.24" fill="#ff0000"/><rect x="185.31" y="424.80" width="4.07" height="4.07" fill="#ff8a8a"/>
<rect x="209.78" y="405.28" width="8.24" height="8.24" fill="#ff0000"/><rect x="211.87" y="407.37" width="4.07" height="4.07" fill="#ff8a8a"/>
<rect x="236.34" y="416.87" width="8.24" height="8.24" fill="#ff0000"/><rect x="238.43" y="418.96" width="4.07" height="4.07" fill="#ff8a8a"/>
<polyline points="81.10,448.04 82.42,447.42 83.75,446.76 85.08,446.06 86.41,445.30 87.74,444.50 89.06,443.65 90.39,442.74 91.72,441.78 93.05,440.76 94.38,439.69 95.70,438.55 97.03,437.35 98.36,436.09 99.69,434.76 101.02,433.38 102.34,431.92 103.67,430.41 105.00,428.84 106.33,427.20 107.66,425.51 108.98,423.76 110.31,421.96 111.64,420.12 112.97,418.23 114.30,416.30 115.62,414.34 116.95,412.34 118.28,410.33 119.61,408.30 120.94,406.26 122.27,404.22 123.59,402.18 124.92,400.15 126.25,398.14 127.58,396.15 128.91,394.19 130.23,392.27 131.56,390.38 132.89,388.54 134.22,386.74 135.55,385.00 136.87,383.32 138.20,381.69 139.53,380.12 140.86,378.61 142.19,377.17 143.51,375.79 144.84,374.47 146.17,373.21 147.50,372.02 148.83,370.89 150.15,369.81 151.48,368.80 152.81,367.85 154.14,366.95 155.47,366.10 156.79,365.30 158.12,364.55 159.45,363.85 160.78,363.20 162.11,362.58 163.43,362.01 164.76,361.47 166.09,360.97 167.42,360.51 168.75,360.08 170.07,359.67 171.40,359.30 172.73,358.95 174.06,358.62 175.39,358.32 176.71,358.04 178.04,357.78 179.37,357.54 180.70,357.32 182.03,357.11 183.36,356.92 184.68,356.74 186.01,356.58 187.34,356.43 188.67,356.29 190.00,356.16 191.32,356.04 192.65,355.93 193.98,355.82 195.31,355.73 196.64,355.64 197.96,355.56 199.29,355.48 200.62,355.42 201.95,355.35 203.28,355.29 204.60,355.24 205.93,355.19 207.26,355.14 208.59,355.10 209.92,355.06 211.24,355.02 212.57,354.99 213.90,354.96 215.23,354.93 216.56,354.90 217.88,354.87 219.21,354.85 220.54,354.83 221.87,354.81 223.20,354.79 224.52,354.78 225.85,354.76 227.18,354.75 228.51,354.74 229.84,354.72 231.16,354.71 232.49,354.70 233.82,354.69 235.15,354.68 236.48,354.68 237.80,354.67 239.13,354.66 240.46,354.66" fill="none" stroke="#0000ff" stroke-width="1.5" stroke-linejoin="round"/>
<path d="M134.22 385.88V394.34M131.02 385.88h6.4M131.02 394.34h6.4" stroke="#0000ff" stroke-width="1.5" fill="none"/>
<path d="M160.78 360.08V371.42M157.58 360.08h6.4M157.58 371.42h6.4" stroke="#0000ff" stroke-width="1.5" fill="none"/>
<path d="M213.90 344.43V367.27M210.70 344.43h6.4M210.70 367.27h6.4" stroke="#0000ff" stroke-width="1.5" fill="none"/>
<path d="M240.46 346.63V353.40M237.26 346.63h6.4M237.26 353.40h6.4" stroke="#0000ff" stroke-width="1.5" fill="none"/>
<circle cx="81.10" cy="448.49" r="4.01" fill="#0000ff"/><circle cx="81.10" cy="448.49" r="2.14" fill="#66aaff"/>
<circle cx="107.66" cy="422.68" r="4.01" fill="#0000ff"/><circle cx="107.66" cy="422.68" r="2.14" fill="#66aaff"/>
<circle cx="134.22" cy="390.11" r="4.01" fill="#0000ff"/><circle cx="134.22" cy="390.11" r="2.14" fill="#66aaff"/>
<circle cx="160.78" cy="365.75" r="4.01" fill="#0000ff"/><circle cx="160.78" cy="365.75" r="2.14" fill="#66aaff"/>
<circle cx="187.34" cy="361.69" r="4.01" fill="#0000ff"/><circle cx="187.34" cy="361.69" r="2.14" fill="#66aaff"/>
<circle cx="213.90" cy="355.85" r="4.01" fill="#0000ff"/><circle cx="213.90" cy="355.85" r="2.14" fill="#66aaff"/>
<circle cx="240.46" cy="350.01" r="4.01" fill="#0000ff"/><circle cx="240.46" cy="350.01" r="2.14" fill="#66aaff"/>
<path d="M61.90 328.60V456.10H252.50" stroke="#000" stroke-width="1.45" fill="none"/>
<path d="M58.30 456.10H61.90" stroke="#000" stroke-width="1.4"/>
<text x="57.30" y="459.23" font-family="Liberation Sans" font-size="9.737" font-weight="bold" text-anchor="end" fill="#000" textLength="12.65" lengthAdjust="spacingAndGlyphs" >0.0</text>
<path d="M58.30 413.80H61.90" stroke="#000" stroke-width="1.4"/>
<text x="57.30" y="416.93" font-family="Liberation Sans" font-size="9.737" font-weight="bold" text-anchor="end" fill="#000" textLength="12.65" lengthAdjust="spacingAndGlyphs" >0.5</text>
<path d="M58.30 371.50H61.90" stroke="#000" stroke-width="1.4"/>
<text x="57.30" y="374.63" font-family="Liberation Sans" font-size="9.737" font-weight="bold" text-anchor="end" fill="#000" textLength="12.65" lengthAdjust="spacingAndGlyphs" >1.0</text>
<path d="M58.30 329.20H61.90" stroke="#000" stroke-width="1.4"/>
<text x="57.30" y="332.33" font-family="Liberation Sans" font-size="9.737" font-weight="bold" text-anchor="end" fill="#000" textLength="12.65" lengthAdjust="spacingAndGlyphs" >1.5</text>
<path d="M61.90 456.10v3.4" stroke="#000" stroke-width="1.4"/>
<text x="61.90" y="470.60" font-family="Liberation Sans" font-size="9.737" font-weight="bold" text-anchor="middle" fill="#000" textLength="5.06" lengthAdjust="spacingAndGlyphs" >1</text>
<path d="M73.34 456.10v2.1" stroke="#000" stroke-width="1"/>
<path d="M80.03 456.10v2.1" stroke="#000" stroke-width="1"/>
<path d="M84.78 456.10v2.1" stroke="#000" stroke-width="1"/>
<path d="M88.46 456.10v2.1" stroke="#000" stroke-width="1"/>
<path d="M91.47 456.10v2.1" stroke="#000" stroke-width="1"/>
<path d="M94.01 456.10v2.1" stroke="#000" stroke-width="1"/>
<path d="M96.22 456.10v2.1" stroke="#000" stroke-width="1"/>
<path d="M98.16 456.10v2.1" stroke="#000" stroke-width="1"/>
<path d="M99.90 456.10v3.4" stroke="#000" stroke-width="1.4"/>
<text x="99.90" y="470.60" font-family="Liberation Sans" font-size="9.737" font-weight="bold" text-anchor="middle" fill="#000" textLength="10.12" lengthAdjust="spacingAndGlyphs" >10</text>
<path d="M111.34 456.10v2.1" stroke="#000" stroke-width="1"/>
<path d="M118.03 456.10v2.1" stroke="#000" stroke-width="1"/>
<path d="M122.78 456.10v2.1" stroke="#000" stroke-width="1"/>
<path d="M126.46 456.10v2.1" stroke="#000" stroke-width="1"/>
<path d="M129.47 456.10v2.1" stroke="#000" stroke-width="1"/>
<path d="M132.01 456.10v2.1" stroke="#000" stroke-width="1"/>
<path d="M134.22 456.10v2.1" stroke="#000" stroke-width="1"/>
<path d="M136.16 456.10v2.1" stroke="#000" stroke-width="1"/>
<path d="M137.90 456.10v3.4" stroke="#000" stroke-width="1.4"/>
<text x="137.90" y="470.60" font-family="Liberation Sans" font-size="9.737" font-weight="bold" text-anchor="middle" fill="#000" textLength="15.18" lengthAdjust="spacingAndGlyphs" >100</text>
<path d="M149.34 456.10v2.1" stroke="#000" stroke-width="1"/>
<path d="M156.03 456.10v2.1" stroke="#000" stroke-width="1"/>
<path d="M160.78 456.10v2.1" stroke="#000" stroke-width="1"/>
<path d="M164.46 456.10v2.1" stroke="#000" stroke-width="1"/>
<path d="M167.47 456.10v2.1" stroke="#000" stroke-width="1"/>
<path d="M170.01 456.10v2.1" stroke="#000" stroke-width="1"/>
<path d="M172.22 456.10v2.1" stroke="#000" stroke-width="1"/>
<path d="M174.16 456.10v2.1" stroke="#000" stroke-width="1"/>
<path d="M175.90 456.10v3.4" stroke="#000" stroke-width="1.4"/>
<text x="175.90" y="470.60" font-family="Liberation Sans" font-size="9.737" font-weight="bold" text-anchor="middle" fill="#000" textLength="20.24" lengthAdjust="spacingAndGlyphs" >1000</text>
<path d="M187.34 456.10v2.1" stroke="#000" stroke-width="1"/>
<path d="M194.03 456.10v2.1" stroke="#000" stroke-width="1"/>
<path d="M198.78 456.10v2.1" stroke="#000" stroke-width="1"/>
<path d="M202.46 456.10v2.1" stroke="#000" stroke-width="1"/>
<path d="M205.47 456.10v2.1" stroke="#000" stroke-width="1"/>
<path d="M208.01 456.10v2.1" stroke="#000" stroke-width="1"/>
<path d="M210.22 456.10v2.1" stroke="#000" stroke-width="1"/>
<path d="M212.16 456.10v2.1" stroke="#000" stroke-width="1"/>
<path d="M213.90 456.10v3.4" stroke="#000" stroke-width="1.4"/>
<text x="213.90" y="470.60" font-family="Liberation Sans" font-size="9.737" font-weight="bold" text-anchor="middle" fill="#000" textLength="25.30" lengthAdjust="spacingAndGlyphs" >10000</text>
<path d="M225.34 456.10v2.1" stroke="#000" stroke-width="1"/>
<path d="M232.03 456.10v2.1" stroke="#000" stroke-width="1"/>
<path d="M236.78 456.10v2.1" stroke="#000" stroke-width="1"/>
<path d="M240.46 456.10v2.1" stroke="#000" stroke-width="1"/>
<path d="M243.47 456.10v2.1" stroke="#000" stroke-width="1"/>
<path d="M246.01 456.10v2.1" stroke="#000" stroke-width="1"/>
<path d="M248.22 456.10v2.1" stroke="#000" stroke-width="1"/>
<path d="M250.16 456.10v2.1" stroke="#000" stroke-width="1"/>
<path d="M251.90 456.10v3.4" stroke="#000" stroke-width="1.4"/>
<text x="251.90" y="470.60" font-family="Liberation Sans" font-size="9.737" font-weight="bold" text-anchor="middle" fill="#000" textLength="30.36" lengthAdjust="spacingAndGlyphs" >100000</text>
<text x="157.40" y="483.80" font-family="Liberation Sans" font-size="10.3" font-weight="bold" text-anchor="middle" fill="#000" >[Peptide] nM</text>
<text transform="translate(25.80,392.65) rotate(-90)" font-family="Liberation Sans" font-size="10.30" font-weight="bold" text-anchor="middle">O.D. [450 nm]</text>
<path d="M464.70 34.80h13.00" stroke="#0000ff" stroke-width="1.5"/>
<circle cx="471.20" cy="34.80" r="3.75" fill="#0000ff"/><circle cx="471.20" cy="34.80" r="2.00" fill="#66aaff"/>
<text x="485.60" y="37.10" font-family="Liberation Sans" font-size="10.2" font-weight="normal" text-anchor="start" fill="#000" textLength="14.80" lengthAdjust="spacingAndGlyphs" stroke="#000" stroke-width="0.25">Tp9</text>
<text x="500.70" y="39.50" font-family="Liberation Sans" font-size="8.6" font-weight="normal" text-anchor="start" fill="#000" textLength="20.60" lengthAdjust="spacingAndGlyphs" stroke="#000" stroke-width="0.25">67-75</text>
<path d="M464.70 50.32h13.00" stroke="#ff0000" stroke-width="1.5"/>
<rect x="467.35" y="46.47" width="7.70" height="7.70" fill="#ff0000"/><rect x="469.30" y="48.42" width="3.80" height="3.80" fill="#ff8a8a"/>
<text x="485.60" y="52.62" font-family="Liberation Sans" font-size="10.2" font-weight="normal" text-anchor="start" fill="#000" textLength="14.80" lengthAdjust="spacingAndGlyphs" stroke="#000" stroke-width="0.25">Tp9</text>
<text x="501.20" y="55.02" font-family="Liberation Sans" font-size="8.6" font-weight="normal" text-anchor="start" fill="#000" textLength="9.10" lengthAdjust="spacingAndGlyphs" stroke="#000" stroke-width="0.25">V2</text>
<path d="M464.70 65.84h13.00" stroke="#a00000" stroke-width="1.5"/>
<path d="M471.20 61.74L475.30 69.84H467.10Z" fill="#a00000"/><path d="M471.20 64.84L472.90 68.34H469.50Z" fill="#ff4040"/>
<text x="485.60" y="68.14" font-family="Liberation Sans" font-size="10.2" font-weight="normal" text-anchor="start" fill="#000" textLength="14.80" lengthAdjust="spacingAndGlyphs" stroke="#000" stroke-width="0.25">Tp9</text>
<text x="501.20" y="70.54" font-family="Liberation Sans" font-size="8.6" font-weight="normal" text-anchor="start" fill="#000" textLength="9.10" lengthAdjust="spacingAndGlyphs" stroke="#000" stroke-width="0.25">V3</text>
<path d="M464.70 81.36h13.00" stroke="#003d4d" stroke-width="1.5"/>
<path d="M471.20 85.46L475.30 77.36H467.10Z" fill="#003d4d"/><path d="M471.20 82.36L472.90 78.86H469.50Z" fill="#10d070"/>
<text x="485.60" y="83.66" font-family="Liberation Sans" font-size="10.2" font-weight="normal" text-anchor="start" fill="#000" textLength="14.80" lengthAdjust="spacingAndGlyphs" stroke="#000" stroke-width="0.25">Tp9</text>
<text x="501.20" y="86.06" font-family="Liberation Sans" font-size="8.6" font-weight="normal" text-anchor="start" fill="#000" textLength="9.10" lengthAdjust="spacingAndGlyphs" stroke="#000" stroke-width="0.25">V4</text>
<path d="M464.70 96.88h13.00" stroke="#ff5a00" stroke-width="1.5"/>
<path d="M471.20 92.68L475.40 96.88L471.20 101.08L467.00 96.88Z" fill="#ff5a00"/><path d="M471.20 95.28L472.80 96.88L471.20 98.48L469.60 96.88Z" fill="#ffb0b8"/>
<text x="485.60" y="99.18" font-family="Liberation Sans" font-size="10.2" font-weight="normal" text-anchor="start" fill="#000" textLength="14.80" lengthAdjust="spacingAndGlyphs" stroke="#000" stroke-width="0.25">Tp9</text>
<text x="501.20" y="101.58" font-family="Liberation Sans" font-size="8.6" font-weight="normal" text-anchor="start" fill="#000" textLength="9.10" lengthAdjust="spacingAndGlyphs" stroke="#000" stroke-width="0.25">V5</text>
<path d="M464.70 112.40h13.00" stroke="#a00000" stroke-width="1.5"/>
<circle cx="471.20" cy="112.40" r="3.75" fill="#a00000"/><circle cx="471.20" cy="112.40" r="2.00" fill="#ffb0b0"/>
<text x="485.60" y="114.70" font-family="Liberation Sans" font-size="10.2" font-weight="normal" text-anchor="start" fill="#000" textLength="14.80" lengthAdjust="spacingAndGlyphs" stroke="#000" stroke-width="0.25">Tp9</text>
<text x="501.20" y="117.10" font-family="Liberation Sans" font-size="8.6" font-weight="normal" text-anchor="start" fill="#000" textLength="9.10" lengthAdjust="spacingAndGlyphs" stroke="#000" stroke-width="0.25">V6</text>
<path d="M280.94 372.30h13.91" stroke="#0000ff" stroke-width="1.5"/>
<circle cx="287.90" cy="372.30" r="4.01" fill="#0000ff"/><circle cx="287.90" cy="372.30" r="2.14" fill="#66aaff"/>
<text x="302.90" y="374.67" font-family="Liberation Sans" font-size="10.506" font-weight="normal" text-anchor="start" fill="#000" textLength="15.24" lengthAdjust="spacingAndGlyphs" stroke="#000" stroke-width="0.25">Tp9</text>
<text x="318.45" y="377.14" font-family="Liberation Sans" font-size="8.858" font-weight="normal" text-anchor="start" fill="#000" textLength="21.22" lengthAdjust="spacingAndGlyphs" stroke="#000" stroke-width="0.25">67-75</text>
<path d="M280.94 388.75h13.91" stroke="#ff0000" stroke-width="1.5"/>
<rect x="283.78" y="384.63" width="8.24" height="8.24" fill="#ff0000"/><rect x="285.87" y="386.72" width="4.07" height="4.07" fill="#ff8a8a"/>
<text x="302.90" y="391.12" font-family="Liberation Sans" font-size="10.506" font-weight="normal" text-anchor="start" fill="#000" textLength="15.24" lengthAdjust="spacingAndGlyphs" stroke="#000" stroke-width="0.25">Tp9</text>
<text x="318.97" y="393.59" font-family="Liberation Sans" font-size="8.858" font-weight="normal" text-anchor="start" fill="#000" textLength="9.37" lengthAdjust="spacingAndGlyphs" stroke="#000" stroke-width="0.25">V7</text>
<path d="M280.94 405.20h13.91" stroke="#a00000" stroke-width="1.5"/>
<path d="M287.90 400.81L292.29 409.48H283.51Z" fill="#a00000"/><path d="M287.90 404.13L289.72 407.88H286.08Z" fill="#ff4040"/>
<text x="302.90" y="407.57" font-family="Liberation Sans" font-size="10.506" font-weight="normal" text-anchor="start" fill="#000" textLength="15.24" lengthAdjust="spacingAndGlyphs" stroke="#000" stroke-width="0.25">Tp9</text>
<text x="318.97" y="410.04" font-family="Liberation Sans" font-size="8.858" font-weight="normal" text-anchor="start" fill="#000" textLength="9.37" lengthAdjust="spacingAndGlyphs" stroke="#000" stroke-width="0.25">V8</text>
<path d="M280.94 421.65h13.91" stroke="#003d4d" stroke-width="1.5"/>
<path d="M287.90 426.04L292.29 417.37H283.51Z" fill="#003d4d"/><path d="M287.90 422.72L289.72 418.97H286.08Z" fill="#10d070"/>
<text x="302.90" y="424.02" font-family="Liberation Sans" font-size="10.506" font-weight="normal" text-anchor="start" fill="#000" textLength="15.24" lengthAdjust="spacingAndGlyphs" stroke="#000" stroke-width="0.25">Tp9</text>
<text x="318.97" y="426.49" font-family="Liberation Sans" font-size="8.858" font-weight="normal" text-anchor="start" fill="#000" textLength="9.37" lengthAdjust="spacingAndGlyphs" stroke="#000" stroke-width="0.25">V9</text>
<rect x="24.5" y="156.9" width="414.7" height="25.69999999999999" fill="#a6a6a6"/>
<path d="M24.5 182.6V305.6H439.2V182.6" fill="none" stroke="#c9c9c9" stroke-width="0.9"/>
<path d="M24.5 203.8H439.2" stroke="#c9c9c9" stroke-width="0.9"/>
<path d="M24.5 224.8H439.2" stroke="#c9c9c9" stroke-width="0.9"/>
<path d="M24.5 245.5H439.2" stroke="#c9c9c9" stroke-width="0.9"/>
<path d="M24.5 266.5H439.2" stroke="#c9c9c9" stroke-width="0.9"/>
<path d="M24.5 286.4H439.2" stroke="#c9c9c9" stroke-width="0.9"/>
<text x="31.30" y="170.00" font-family="Liberation Sans" font-size="9.9" font-weight="bold" text-anchor="start" fill="#000" textLength="32.80" lengthAdjust="spacingAndGlyphs" >Peptide</text>
<text x="154.40" y="170.00" font-family="Liberation Sans" font-size="9.9" font-weight="bold" text-anchor="middle" fill="#000" textLength="34.80" lengthAdjust="spacingAndGlyphs" >Kd (nM)</text>
<text x="226.30" y="170.00" font-family="Liberation Sans" font-size="9.9" font-weight="bold" text-anchor="start" fill="#000" textLength="6.20" lengthAdjust="spacingAndGlyphs" >R</text>
<text x="232.40" y="166.70" font-family="Liberation Sans" font-size="6.2" font-weight="bold" text-anchor="start" fill="#000" textLength="3.30" lengthAdjust="spacingAndGlyphs" >2</text>
<text x="343.00" y="170.00" font-family="Liberation Sans" font-size="9.9" font-weight="bold" text-anchor="middle" fill="#000" textLength="154.20" lengthAdjust="spacingAndGlyphs" >95% Confidence Intervals on the Kd</text>
<text x="31.30" y="194.90" font-family="Liberation Sans" font-size="9.4" font-weight="normal" text-anchor="start" fill="#000" textLength="13.90" lengthAdjust="spacingAndGlyphs" stroke="#000" stroke-width="0.18">Tp9</text>
<text x="45.60" y="197.50" font-family="Liberation Sans" font-size="5.9" font-weight="bold" text-anchor="start" fill="#000" textLength="16.10" lengthAdjust="spacingAndGlyphs" stroke="#000" stroke-width="0.15">67-75</text>
<text x="154.50" y="194.90" font-family="Liberation Sans" font-size="9.4" font-weight="normal" text-anchor="middle" fill="#000" stroke="#000" stroke-width="0.18">22.38</text>
<text x="231.20" y="194.90" font-family="Liberation Sans" font-size="9.4" font-weight="normal" text-anchor="middle" fill="#000" stroke="#000" stroke-width="0.18">0.94</text>
<text x="349.40" y="194.90" font-family="Liberation Sans" font-size="9.4" font-weight="normal" text-anchor="middle" fill="#000" stroke="#000" stroke-width="0.18">10.63 to 34.14</text>
<text x="31.30" y="216.70" font-family="Liberation Sans" font-size="9.4" font-weight="normal" text-anchor="start" fill="#000" textLength="13.90" lengthAdjust="spacingAndGlyphs" stroke="#000" stroke-width="0.18">Tp9</text>
<text x="45.60" y="219.30" font-family="Liberation Sans" font-size="5.9" font-weight="bold" text-anchor="start" fill="#000" textLength="7.90" lengthAdjust="spacingAndGlyphs" stroke="#000" stroke-width="0.15">V2</text>
<text x="154.50" y="216.70" font-family="Liberation Sans" font-size="9.4" font-weight="normal" text-anchor="middle" fill="#000" stroke="#000" stroke-width="0.18">23,809.00</text>
<text x="231.20" y="216.70" font-family="Liberation Sans" font-size="9.4" font-weight="normal" text-anchor="middle" fill="#000" stroke="#000" stroke-width="0.18">0.86</text>
<text x="349.40" y="216.70" font-family="Liberation Sans" font-size="9.4" font-weight="normal" text-anchor="middle" fill="#000" stroke="#000" stroke-width="0.18">-1,464 to 49,082</text>
<text x="31.30" y="237.80" font-family="Liberation Sans" font-size="9.4" font-weight="normal" text-anchor="start" fill="#000" textLength="13.90" lengthAdjust="spacingAndGlyphs" stroke="#000" stroke-width="0.18">Tp9</text>
<text x="45.60" y="240.40" font-family="Liberation Sans" font-size="5.9" font-weight="bold" text-anchor="start" fill="#000" textLength="7.90" lengthAdjust="spacingAndGlyphs" stroke="#000" stroke-width="0.15">V3</text>
<text x="154.50" y="237.80" font-family="Liberation Sans" font-size="9.4" font-weight="normal" text-anchor="middle" fill="#000" stroke="#000" stroke-width="0.18">46.52</text>
<text x="231.20" y="237.80" font-family="Liberation Sans" font-size="9.4" font-weight="normal" text-anchor="middle" fill="#000" stroke="#000" stroke-width="0.18">0.58</text>
<text x="349.40" y="237.80" font-family="Liberation Sans" font-size="9.4" font-weight="normal" text-anchor="middle" fill="#000" stroke="#000" stroke-width="0.18">-7.560 to 100.6</text>
<text x="31.30" y="258.60" font-family="Liberation Sans" font-size="9.4" font-weight="normal" text-anchor="start" fill="#000" textLength="13.90" lengthAdjust="spacingAndGlyphs" stroke="#000" stroke-width="0.18">Tp9</text>
<text x="45.60" y="261.20" font-family="Liberation Sans" font-size="5.9" font-weight="bold" text-anchor="start" fill="#000" textLength="7.90" lengthAdjust="spacingAndGlyphs" stroke="#000" stroke-width="0.15">V4</text>
<text x="154.50" y="258.60" font-family="Liberation Sans" font-size="9.4" font-weight="normal" text-anchor="middle" fill="#000" stroke="#000" stroke-width="0.18">25.00</text>
<text x="231.20" y="258.60" font-family="Liberation Sans" font-size="9.4" font-weight="normal" text-anchor="middle" fill="#000" stroke="#000" stroke-width="0.18">0.92</text>
<text x="349.40" y="258.60" font-family="Liberation Sans" font-size="9.4" font-weight="normal" text-anchor="middle" fill="#000" stroke="#000" stroke-width="0.18">10.26 to 39.74</text>
<text x="31.30" y="278.80" font-family="Liberation Sans" font-size="9.4" font-weight="normal" text-anchor="start" fill="#000" textLength="13.90" lengthAdjust="spacingAndGlyphs" stroke="#000" stroke-width="0.18">Tp9</text>
<text x="45.60" y="281.40" font-family="Liberation Sans" font-size="5.9" font-weight="bold" text-anchor="start" fill="#000" textLength="7.90" lengthAdjust="spacingAndGlyphs" stroke="#000" stroke-width="0.15">V5</text>
<text x="154.50" y="278.80" font-family="Liberation Sans" font-size="9.4" font-weight="normal" text-anchor="middle" fill="#000" stroke="#000" stroke-width="0.18">229.3</text>
<text x="231.20" y="278.80" font-family="Liberation Sans" font-size="9.4" font-weight="normal" text-anchor="middle" fill="#000" stroke="#000" stroke-width="0.18">0.87</text>
<text x="349.40" y="278.80" font-family="Liberation Sans" font-size="9.4" font-weight="normal" text-anchor="middle" fill="#000" stroke="#000" stroke-width="0.18">59.51 to 399.1</text>
<text x="31.30" y="299.30" font-family="Liberation Sans" font-size="9.4" font-weight="normal" text-anchor="start" fill="#000" textLength="13.90" lengthAdjust="spacingAndGlyphs" stroke="#000" stroke-width="0.18">Tp9</text>
<text x="45.60" y="301.90" font-family="Liberation Sans" font-size="5.9" font-weight="bold" text-anchor="start" fill="#000" textLength="7.90" lengthAdjust="spacingAndGlyphs" stroke="#000" stroke-width="0.15">V6</text>
<text x="154.50" y="299.30" font-family="Liberation Sans" font-size="9.4" font-weight="normal" text-anchor="middle" fill="#000" stroke="#000" stroke-width="0.18">72.14</text>
<text x="231.20" y="299.30" font-family="Liberation Sans" font-size="9.4" font-weight="normal" text-anchor="middle" fill="#000" stroke="#000" stroke-width="0.18">0.55</text>
<text x="349.40" y="299.30" font-family="Liberation Sans" font-size="9.4" font-weight="normal" text-anchor="middle" fill="#000" stroke="#000" stroke-width="0.18">-15.59 to 159.9</text>
<rect x="24.5" y="499" width="414.3" height="19.600000000000023" fill="#a6a6a6"/>
<path d="M24.5 518.6V595.3H438.8V518.6" fill="none" stroke="#c9c9c9" stroke-width="0.9"/>
<path d="M24.5 538.5H438.8" stroke="#c9c9c9" stroke-width="0.9"/>
<path d="M24.5 557.5H438.8" stroke="#c9c9c9" stroke-width="0.9"/>
<path d="M24.5 576.5H438.8" stroke="#c9c9c9" stroke-width="0.9"/>
<text x="31.30" y="512.30" font-family="Liberation Sans" font-size="9.9" font-weight="bold" text-anchor="start" fill="#000" textLength="32.80" lengthAdjust="spacingAndGlyphs" >Peptide</text>
<text x="154.40" y="512.30" font-family="Liberation Sans" font-size="9.9" font-weight="bold" text-anchor="middle" fill="#000" textLength="34.80" lengthAdjust="spacingAndGlyphs" >Kd (nM)</text>
<text x="203.85" y="512.30" font-family="Liberation Sans" font-size="9.9" font-weight="bold" text-anchor="start" fill="#000" textLength="6.20" lengthAdjust="spacingAndGlyphs" >R</text>
<text x="209.95" y="509.00" font-family="Liberation Sans" font-size="6.2" font-weight="bold" text-anchor="start" fill="#000" textLength="3.30" lengthAdjust="spacingAndGlyphs" >2</text>
<text x="334.00" y="512.30" font-family="Liberation Sans" font-size="9.9" font-weight="bold" text-anchor="middle" fill="#000" textLength="154.20" lengthAdjust="spacingAndGlyphs" >95% Confidence Intervals on the Kd</text>
<text x="31.30" y="532.00" font-family="Liberation Sans" font-size="9.4" font-weight="normal" text-anchor="start" fill="#000" textLength="13.90" lengthAdjust="spacingAndGlyphs" stroke="#000" stroke-width="0.18">Tp9</text>
<text x="45.60" y="534.60" font-family="Liberation Sans" font-size="5.9" font-weight="bold" text-anchor="start" fill="#000" textLength="16.10" lengthAdjust="spacingAndGlyphs" stroke="#000" stroke-width="0.15">67-75</text>
<text x="154.40" y="532.00" font-family="Liberation Sans" font-size="9.4" font-weight="normal" text-anchor="middle" fill="#000" stroke="#000" stroke-width="0.18">37.10</text>
<text x="208.75" y="532.00" font-family="Liberation Sans" font-size="9.4" font-weight="normal" text-anchor="middle" fill="#000" stroke="#000" stroke-width="0.18">0.97</text>
<text x="334.00" y="532.00" font-family="Liberation Sans" font-size="9.4" font-weight="normal" text-anchor="middle" fill="#000" stroke="#000" stroke-width="0.18">23.71 to 50.50</text>
<text x="31.30" y="551.00" font-family="Liberation Sans" font-size="9.4" font-weight="normal" text-anchor="start" fill="#000" textLength="13.90" lengthAdjust="spacingAndGlyphs" stroke="#000" stroke-width="0.18">Tp9</text>
<text x="45.60" y="553.60" font-family="Liberation Sans" font-size="5.9" font-weight="bold" text-anchor="start" fill="#000" textLength="7.90" lengthAdjust="spacingAndGlyphs" stroke="#000" stroke-width="0.15">V7</text>
<text x="154.40" y="551.00" font-family="Liberation Sans" font-size="9.4" font-weight="normal" text-anchor="middle" fill="#000" stroke="#000" stroke-width="0.18">466.7</text>
<text x="208.75" y="551.00" font-family="Liberation Sans" font-size="9.4" font-weight="normal" text-anchor="middle" fill="#000" stroke="#000" stroke-width="0.18">0.87</text>
<text x="334.00" y="551.00" font-family="Liberation Sans" font-size="9.4" font-weight="normal" text-anchor="middle" fill="#000" stroke="#000" stroke-width="0.18">87.57 to 845.8</text>
<text x="31.30" y="570.40" font-family="Liberation Sans" font-size="9.4" font-weight="normal" text-anchor="start" fill="#000" textLength="13.90" lengthAdjust="spacingAndGlyphs" stroke="#000" stroke-width="0.18">Tp9</text>
<text x="45.60" y="573.00" font-family="Liberation Sans" font-size="5.9" font-weight="bold" text-anchor="start" fill="#000" textLength="7.90" lengthAdjust="spacingAndGlyphs" stroke="#000" stroke-width="0.15">V8</text>
<text x="154.40" y="570.40" font-family="Liberation Sans" font-size="9.4" font-weight="normal" text-anchor="middle" fill="#000" stroke="#000" stroke-width="0.18">262.9</text>
<text x="208.75" y="570.40" font-family="Liberation Sans" font-size="9.4" font-weight="normal" text-anchor="middle" fill="#000" stroke="#000" stroke-width="0.18">0.94</text>
<text x="334.00" y="570.40" font-family="Liberation Sans" font-size="9.4" font-weight="normal" text-anchor="middle" fill="#000" stroke="#000" stroke-width="0.18">117.5 to 408.3</text>
<text x="31.30" y="589.60" font-family="Liberation Sans" font-size="9.4" font-weight="normal" text-anchor="start" fill="#000" textLength="13.90" lengthAdjust="spacingAndGlyphs" stroke="#000" stroke-width="0.18">Tp9</text>
<text x="45.60" y="592.20" font-family="Liberation Sans" font-size="5.9" font-weight="bold" text-anchor="start" fill="#000" textLength="7.90" lengthAdjust="spacingAndGlyphs" stroke="#000" stroke-width="0.15">V9</text>
<text x="154.40" y="589.60" font-family="Liberation Sans" font-size="9.4" font-weight="normal" text-anchor="middle" fill="#000" stroke="#000" stroke-width="0.18">33.68</text>
<text x="208.75" y="589.60" font-family="Liberation Sans" font-size="9.4" font-weight="normal" text-anchor="middle" fill="#000" stroke="#000" stroke-width="0.18">0.96</text>
<text x="334.00" y="589.60" font-family="Liberation Sans" font-size="9.4" font-weight="normal" text-anchor="middle" fill="#000" stroke="#000" stroke-width="0.18">18.93 to 48.44</text>
</g>
</svg></div>
</body></html>
